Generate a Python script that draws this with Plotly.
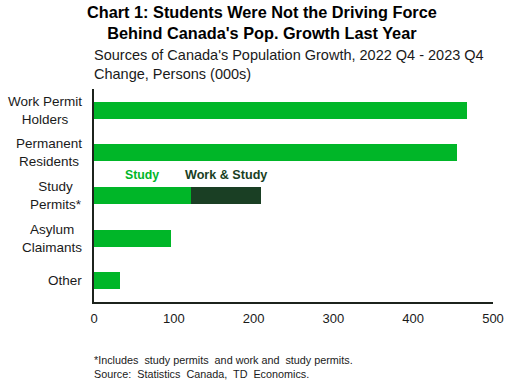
import plotly.graph_objects as go

categories = ["Work Permit Holders", "Permanent Residents", "Study Permits*", "Asylum Claimants", "Other"]
category_labels = ["Work Permit<br>Holders", "Permanent<br>Residents", "Study<br>Permits*", "Asylum<br>Claimants", "Other"]
study_values = [468, 455, 122, 96, 32]
work_study_values = [None, None, 87, None, None]
x_ticks = [0, 100, 200, 300, 400, 500]

GREEN = "#00b628"
DARK = "#1a3f24"
FONT = "Liberation Sans, Arial, sans-serif"

fig = go.Figure()
fig.add_trace(go.Bar(y=categories, x=study_values, orientation="h",
                     marker=dict(color=GREEN, line=dict(width=0)), name="Study"))
fig.add_trace(go.Bar(y=categories, x=work_study_values, orientation="h",
                     marker=dict(color=DARK, line=dict(width=0)), name="Work & Study"))

annotations = []
for c, lab in zip(categories, category_labels):
    annotations.append(dict(x=0, y=c, xref="paper", yref="y", text=lab, showarrow=False,
                            xanchor="right", yanchor="middle", align="center", xshift=-10,
                            font=dict(family=FONT, size=13.5, color="#1a1a1a")))

annotations += [
    dict(x=0.42, y=1.31, xref="paper", yref="paper", showarrow=False, align="center",
         xanchor="center", yanchor="middle",
         text="<b>Chart 1: Students Were Not the Driving Force<br>Behind Canada's Pop. Growth Last Year</b>",
         font=dict(family=FONT, size=16.3, color="#000")),
    dict(x=-0.005, y=1.115, xref="paper", yref="paper", showarrow=False, align="left",
         xanchor="left", yanchor="middle",
         text="Sources of Canada's Population Growth, 2022 Q4 - 2023 Q4<br>Change, Persons (000s)",
         font=dict(family=FONT, size=14.5, color="#1a1a1a")),
    dict(x=-0.005, y=-0.303, xref="paper", yref="paper", showarrow=False, align="left",
         xanchor="left", yanchor="middle",
         text="*Includes  study permits  and work and  study permits.<br>Source:  Statistics  Canada,  TD  Economics.",
         font=dict(family=FONT, size=10.8, color="#1a1a1a")),
    dict(x=60, y=1.53, xref="x", yref="y", showarrow=False, text="<b>Study</b>",
         font=dict(family=FONT, size=12.3, color=GREEN)),
    dict(x=166, y=1.53, xref="x", yref="y", showarrow=False, text="<b>Work & Study</b>",
         font=dict(family=FONT, size=12.6, color=DARK)),
]

fig.update_layout(
    width=516, height=385,
    margin=dict(l=94, r=15, t=89, b=83),
    barmode="stack", bargap=0.6, showlegend=False,
    plot_bgcolor="white", paper_bgcolor="white",
    font=dict(family=FONT, size=13, color="#1a1a1a"),
    annotations=annotations,
    xaxis=dict(range=[0, 500], tickvals=x_ticks, showgrid=False, zeroline=False,
               showline=True, linecolor="#1c231c", linewidth=2, ticks="",
               tickfont=dict(size=13), ticklabelstandoff=3),
    yaxis=dict(autorange="reversed", showticklabels=False, showgrid=False, zeroline=False,
               showline=True, linecolor="#1c231c", linewidth=2, ticks=""),
)

fig.write_html("out.html", config={"displayModeBar": False},
               post_script="document.body.style.margin='0';document.body.style.overflow='hidden';")
